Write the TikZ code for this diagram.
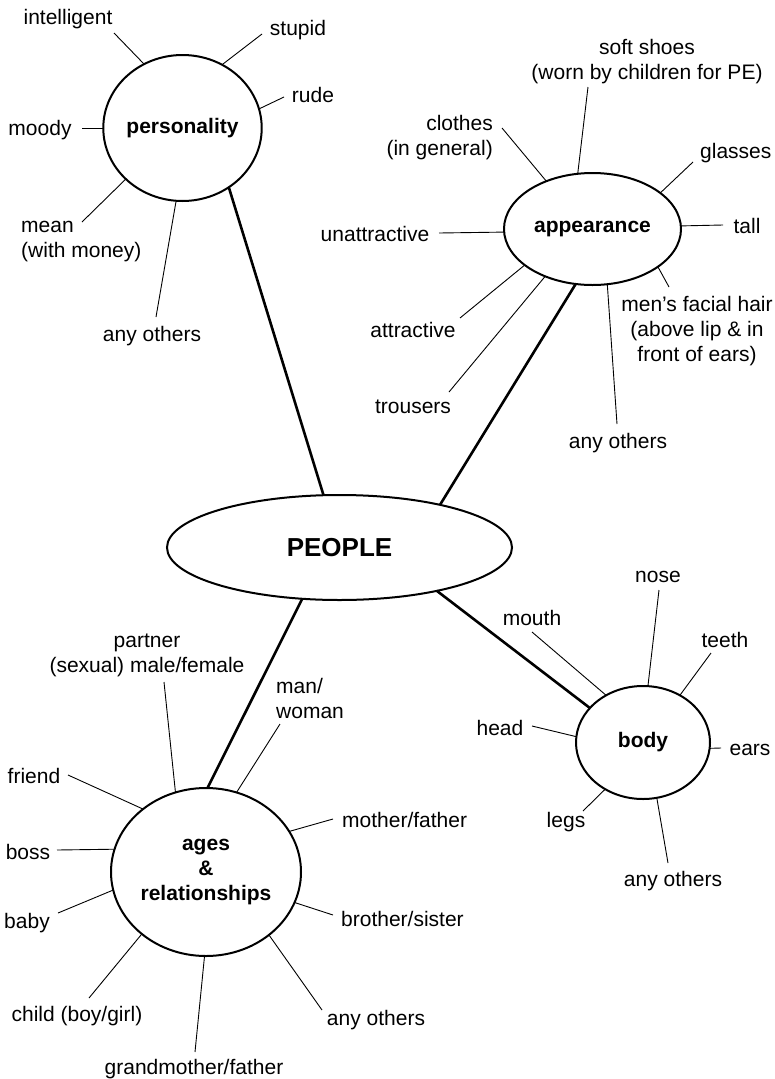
\documentclass[tikz,border=0pt]{standalone}
\usepackage{fontspec}
\setmainfont{Liberation Sans}
\usetikzlibrary{shapes.geometric}
\begin{document}
\begin{tikzpicture}[x=1pt,y=-1pt,
  lbl/.style={inner sep=0pt,yshift=-1.5pt,font=\fontsize{21}{25}\selectfont},
  hub/.style={ellipse,draw,line width=2pt,inner sep=0pt,outer sep=0pt,font=\fontsize{21}{25}\selectfont\bfseries,align=center},
  spoke/.style={line width=0.9pt},
  trunk/.style={line width=2.6pt}]
\useasboundingbox (0,0) rectangle (775,1079);
% hubs
\node[hub,minimum width=345pt,minimum height=105pt,font=\fontsize{26}{30}\selectfont\bfseries] (people) at (339.5,547.5) {PEOPLE};
\node[hub,minimum width=157pt,minimum height=146pt] (pers) at (182.5,128) {personality};
\node[hub,minimum width=177pt,minimum height=112pt] (app) at (592.5,229) {appearance};
\node[hub,minimum width=134pt,minimum height=113pt] (body) at (643,742.5) {body};
\node[hub,minimum width=190pt,minimum height=168pt] (ages) at (206,872) {ages\\\&\\relationships};
% trunks
\draw[trunk] (pers.308.4) -- (people.107.8);
\draw[trunk] (app.253.9) -- (people.23.7);
\draw[trunk] (people.336.7) -- (body.147.6);
\draw[trunk] (people.234.3) -- (ages.89.3);
% personality
\node[lbl] (p1) at (68,18) {intelligent};
\node[lbl] (p2) at (298,29) {stupid};
\node[lbl] (p3) at (313,93) {rude};
\node[lbl] (p4) at (40,129) {moody};
\node[lbl,anchor=west,align=left] (p5) at (21,240) {mean\\(with money)};
\node[lbl] (p6) at (152,335) {any others};
\coordinate (cp1) at (114,33);
\coordinate (cp2) at (262,34);
\coordinate (cp3) at (284,97);
\coordinate (cp4) at (82,128);
\coordinate (cp5) at (82,222);
\coordinate (cp6) at (156,317);
\draw[spoke] (cp1) -- (pers.121.3);
\draw[spoke] (cp2) -- (pers.58.1);
\draw[spoke] (cp3) -- (pers.14.3);
\draw[spoke] (cp4) -- (pers.180);
\draw[spoke] (cp5) -- (pers.222.2);
\draw[spoke] (cp6) -- (pers.265.8);
% appearance
\node[lbl,align=center] (a1) at (647,60) {soft shoes\\(worn by children for PE)};
\node[lbl,anchor=east,align=right] (a2) at (493,136) {clothes\\(in general)};
\node[lbl,anchor=west] (a3) at (700,152) {glasses};
\node[lbl] (a4) at (747,224) {tall};
\node[lbl] (a5) at (375,232) {unattractive};
\node[lbl,align=center] (a6) at (697,330) {men’s facial hair\\(above lip \& in\\front of ears)};
\node[lbl] (a7) at (413,328) {attractive};
\node[lbl] (a8) at (413,405) {trousers};
\node[lbl] (a9) at (618,442) {any others};
\coordinate (ca1) at (588,87);
\coordinate (ca2) at (502,128);
\coordinate (ca3) at (693,162);
\coordinate (ca4) at (723,225);
\coordinate (ca5) at (439,233);
\coordinate (ca6) at (669,287);
\coordinate (ca7) at (460,318);
\coordinate (ca8) at (449,392);
\coordinate (ca9) at (617,424);
\draw[spoke] (ca1) -- (app.105.2);
\draw[spoke] (ca2) -- (app.134.7);
\draw[spoke] (ca3) -- (app.28.3);
\draw[spoke] (ca4) -- (app.2.6);
\draw[spoke] (ca5) -- (app.182.6);
\draw[spoke] (ca6) -- (app.330.7);
\draw[spoke] (ca7) -- (app.208.7);
\draw[spoke] (ca8) -- (app.225.9);
\draw[spoke] (ca9) -- (app.285);
% body
\node[lbl] (b1) at (658,575) {nose};
\node[lbl] (b2) at (532,616) {mouth};
\node[lbl] (b3) at (725,638) {teeth};
\node[lbl] (b4) at (500,726) {head};
\node[lbl] (b5) at (750,748) {ears};
\node[lbl] (b6) at (566,821) {legs};
\node[lbl] (b7) at (673,880) {any others};
\coordinate (cb1) at (659,590);
\coordinate (cb2) at (532,632);
\coordinate (cb3) at (711,653);
\coordinate (cb4) at (532,726);
\coordinate (cb5) at (721,748);
\coordinate (cb6) at (583,811);
\coordinate (cb7) at (668,863);
\draw[spoke] (cb1) -- (body.85);
\draw[spoke] (cb2) -- (body.128.9);
\draw[spoke] (cb3) -- (body.52.5);
\draw[spoke] (cb4) -- (body.175.4);
\draw[spoke] (cb5) -- (body.355.4);
\draw[spoke] (cb6) -- (body.231.1);
\draw[spoke] (cb7) -- (body.284.6);
% ages
\node[lbl,align=center] (r1) at (147,654) {partner\\(sexual) male/female};
\node[lbl,anchor=west,align=left] (r2) at (276,697) {man/\\woman};
\node[lbl] (r3) at (34,774) {friend};
\node[lbl,anchor=west] (r4) at (342,818) {mother/father};
\node[lbl] (r5) at (28,850) {boss};
\node[lbl] (r6) at (27,922) {baby};
\node[lbl,anchor=west] (r7) at (341,917) {brother/sister};
\node[lbl] (r8) at (77,1015) {child (boy/girl)};
\node[lbl] (r9) at (194,1068) {grandmother/father};
\node[lbl] (r10) at (376,1019) {any others};
\coordinate (cr1) at (164,682);
\coordinate (cr2) at (280,724);
\coordinate (cr3) at (68,775);
\coordinate (cr4) at (333,819);
\coordinate (cr5) at (57,850);
\coordinate (cr6) at (58,913);
\coordinate (cr7) at (333,915);
\coordinate (cr8) at (89,998);
\coordinate (cr9) at (195,1052);
\coordinate (cr10) at (322,1010);
\draw[spoke] (cr1) -- (ages.111.6);
\draw[spoke] (cr2) -- (ages.69.7);
\draw[spoke] (cr3) -- (ages.135);
\draw[spoke] (cr4) -- (ages.26.3);
\draw[spoke] (cr5) -- (ages.166.7);
\draw[spoke] (cr6) -- (ages.191.9);
\draw[spoke] (cr7) -- (ages.341.9);
\draw[spoke] (cr8) -- (ages.224.6);
\draw[spoke] (cr9) -- (ages.269.3);
\draw[spoke] (cr10) -- (ages.315);
\end{tikzpicture}
\end{document}
